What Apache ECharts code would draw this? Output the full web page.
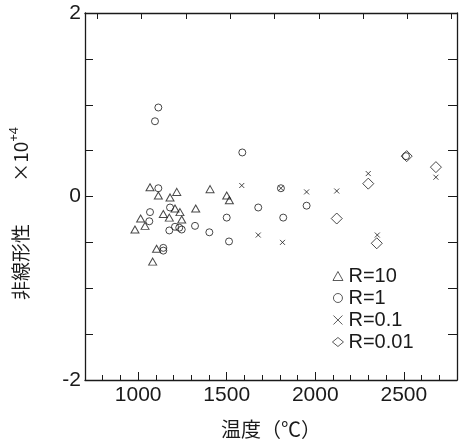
<!DOCTYPE html>
<html>
<head>
<meta charset="utf-8">
<script src="https://cdn.jsdelivr.net/npm/echarts@6/dist/echarts.min.js"></script>
<style>
  html, body { margin: 0; background: #fff; }
  #chart { width: 462px; height: 444px; }
</style>
</head>
<body>
<div id="chart"></div>
<script>
// 温度 (℃), 非線形性 (x10^+4)
const r10 = [
  [1067, 0.10], [1114, 0.01], [1180, -0.01], [1218, 0.05], [1208, -0.13],
  [1236, -0.17], [1325, -0.13], [1014, -0.24], [1142, -0.19], [1176, -0.23],
  [1039, -0.32], [1246, -0.25], [982, -0.36], [1104, -0.57], [1082, -0.71],
  [1406, 0.08], [1500, 0.01], [1515, -0.04]
];
const r1 = [
  [1114, 0.97], [1095, 0.82], [1114, 0.09], [1180, -0.12], [1067, -0.17],
  [1063, -0.27], [1176, -0.37], [1208, -0.33], [1232, -0.34], [1246, -0.36],
  [1321, -0.32], [1402, -0.39], [1142, -0.56], [1142, -0.59], [1588, 0.48],
  [1806, 0.09], [1678, -0.12], [1500, -0.23], [1819, -0.23], [1951, -0.10],
  [1513, -0.49], [2512, 0.44]
];
const r01 = [
  [1585, 0.12], [1806, 0.09], [1951, 0.05], [2121, 0.06], [2299, 0.25],
  [2681, 0.21], [1678, -0.42], [1815, -0.50], [2350, -0.42]
];
const r001 = [
  [2299, 0.14], [2121, -0.24], [2347, -0.51], [2516, 0.44], [2681, 0.32]
];

const xMinorTicks = [800, 900, 1000, 1100, 1200, 1300, 1400, 1500, 1600, 1700, 1800,
  1900, 2000, 2100, 2200, 2300, 2400, 2500, 2600, 2700];
const xLabels = [1000, 1500, 2000, 2500];
const xTopTicks = [770, 1020, 1270, 1520, 1770, 2020, 2270, 2520, 2770];
const yTicks = [-1.5, -1, -0.5, 0, 0.5, 1, 1.5];
const yLabels = [-2, 0, 2];

const ink = '#1a1a1a';
const latin = 'Liberation Sans';
const cjk = 'Noto Sans CJK JP';

const crossPath = 'path://M0,0L10,10M10,0L0,10';
const triPath = 'path://M5,0L10,9L0,9Z';

const hollow = { color: 'transparent', borderColor: ink, borderWidth: 1 };
const plain = v => String(v);

const chart = echarts.init(document.getElementById('chart'));
chart.setOption({
  animation: false,
  backgroundColor: '#fff',
  grid: { left: 85, right: 5, top: 13, bottom: 62 },
  legend: {
    orient: 'vertical',
    left: 327,
    top: 261,
    itemWidth: 11,
    itemHeight: 9,
    itemGap: 2,
    itemStyle: { color: 'transparent', borderColor: ink, borderWidth: 0.9 },
    textStyle: { fontFamily: latin, fontSize: 20, color: ink },
    data: ['R=10', 'R=1', 'R=0.1', 'R=0.01']
  },
  xAxis: [
    {
      type: 'value', min: 700, max: 2800, position: 'bottom',
      name: '温度（℃）', nameLocation: 'middle', nameGap: 39,
      nameTextStyle: { fontFamily: cjk, fontSize: 20, color: ink },
      axisLine: { onZero: false, lineStyle: { color: ink, width: 1.3 } },
      axisTick: { inside: true, length: 5, customValues: xMinorTicks, lineStyle: { color: ink } },
      axisLabel: { customValues: xLabels, formatter: plain, fontFamily: latin, fontSize: 21, color: ink, margin: 5 },
      splitLine: { show: false }
    },
    {
      type: 'value', min: 700, max: 2800, position: 'bottom',
      axisLine: { show: false, onZero: false },
      axisTick: { inside: true, length: 8, customValues: xLabels, lineStyle: { color: ink } },
      axisLabel: { show: false },
      splitLine: { show: false }
    },
    {
      type: 'value', min: 700, max: 2800, position: 'top',
      axisLine: { onZero: false, lineStyle: { color: ink, width: 1.3 } },
      axisTick: { inside: true, length: 6, customValues: xTopTicks, lineStyle: { color: ink } },
      axisLabel: { show: false },
      splitLine: { show: false }
    }
  ],
  yAxis: [
    {
      type: 'value', min: -2, max: 2, position: 'left',
      name: '非線形性\u3000\u3000 ×10{sup|+4}', nameLocation: 'middle', nameGap: 52,
      nameTextStyle: {
        fontFamily: cjk, fontSize: 19, color: ink, padding: [0, 34, 0, 0],
        rich: { sup: { fontFamily: latin, fontSize: 13, color: ink, padding: [0, 0, 12, 0] } }
      },
      axisLine: { onZero: false, lineStyle: { color: ink, width: 1.3 } },
      axisTick: { inside: true, length: 8, customValues: yTicks, lineStyle: { color: ink } },
      axisLabel: { customValues: yLabels, formatter: plain, fontFamily: latin, fontSize: 21, color: ink, margin: 4 },
      splitLine: { show: false }
    },
    {
      type: 'value', min: -2, max: 2, position: 'right',
      axisLine: { onZero: false, lineStyle: { color: ink, width: 1.3 } },
      axisTick: { inside: true, length: 9, customValues: yTicks, lineStyle: { color: ink } },
      axisLabel: { show: false },
      splitLine: { show: false }
    }
  ],
  series: [
    { name: 'R=10', type: 'scatter', data: r10, symbol: triPath, symbolSize: [8, 7], itemStyle: hollow },
    { name: 'R=1', type: 'scatter', data: r1, symbol: 'circle', symbolSize: 7, itemStyle: hollow },
    { name: 'R=0.1', type: 'scatter', data: r01, symbol: crossPath, symbolSize: 5, itemStyle: hollow },
    { name: 'R=0.01', type: 'scatter', data: r001, symbol: 'diamond', symbolSize: 11, itemStyle: hollow }
  ]
});
</script>
</body>
</html>
